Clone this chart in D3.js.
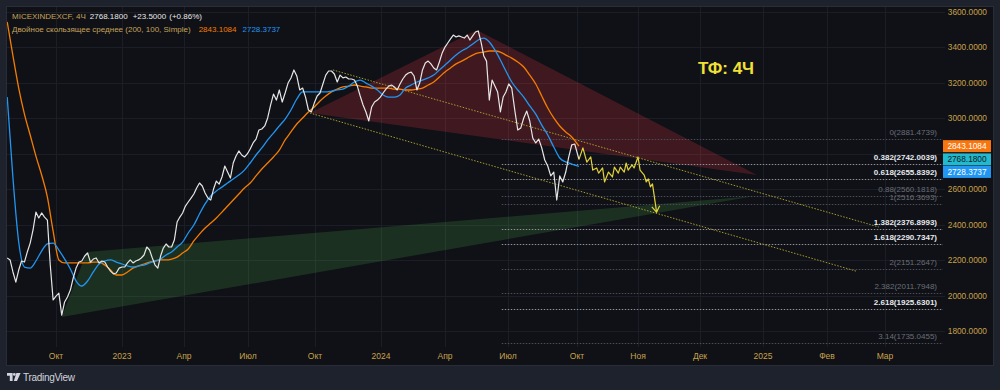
<!DOCTYPE html>
<html>
<head>
<meta charset="utf-8">
<script src="https://cdn.jsdelivr.net/npm/d3@7"></script>
<style>
  html, body { margin: 0; padding: 0; background: #1e222d; }
  svg { display: block; font-family: "Liberation Sans", Arial, sans-serif; }
</style>
</head>
<body>
<svg id="chart" width="1000" height="390"></svg>
<script>
// Step-1 : data //

// MICEXINDEXCF close, one value every 4 days from 2022-07-25
var priceStart = "2022-07-25";
var priceStepDays = 4;
var closes = [
  2212, 2201, 2133, 2076, 2144, 2195, 2189, 2246, 2296, 2370,
  2471, 2438, 2466, 2443, 2426, 2172, 1975, 1997, 2014, 1890,
  1964, 1992, 2031, 2099, 2155, 2189, 2195, 2223, 2240, 2189,
  2206, 2212, 2184, 2195, 2189, 2161, 2138, 2122, 2127, 2155,
  2161, 2161, 2184, 2201, 2184, 2195, 2201, 2212, 2229, 2274,
  2257, 2212, 2172, 2155, 2223, 2268, 2291, 2274, 2274, 2313,
  2415, 2443, 2466, 2505, 2528, 2550, 2573, 2607, 2635, 2618,
  2579, 2550, 2539, 2601, 2646, 2629, 2669, 2731, 2697, 2663,
  2748, 2787, 2816, 2793, 2782, 2799, 2827, 2861, 2883, 2934,
  2940, 2957, 3002, 3075, 3137, 3103, 3160, 3092, 3143, 3199,
  3228, 3273, 3239, 3160, 3171, 3120, 3047, 3036, 3086, 3126,
  3143, 3194, 3244, 3267, 3267, 3250, 3205, 3244, 3228, 3233,
  3222, 3222, 3216, 3182, 3126, 3075, 3036, 2985, 3064, 3092,
  3103, 3120, 3143, 3165, 3182, 3188, 3177, 3160, 3194, 3222,
  3244, 3256, 3261, 3239, 3160, 3199, 3273, 3312, 3323, 3307,
  3284, 3273, 3318, 3369, 3402, 3425, 3448, 3470, 3459, 3465,
  3459, 3453, 3470, 3442, 3465, 3487, 3493, 3431, 3352, 3323,
  3103, 3216, 3182, 3149, 3036, 3120, 3149, 3194, 3171, 3047,
  2934, 2945, 3002, 3041, 2985, 2889, 2861, 2883, 2833, 2765,
  2731, 2675, 2697, 2539, 2675, 2641, 2697, 2782, 2850, 2855,
  2768.18
];
var lastChange = 23.5;
var lastChangePct = 0.86;

// double moving average (200, 100, Simple), one value every 8 days
var maStepDays = 8;
var sma200 = [
  3544, 3352, 3171, 3024, 2906, 2787, 2680, 2556, 2364, 2201,
  2184, 2184, 2184, 2184, 2184, 2189, 2189, 2172, 2144, 2116,
  2116, 2133, 2155, 2167, 2178, 2189, 2195, 2201, 2201, 2206,
  2217, 2240, 2263, 2308, 2347, 2381, 2409, 2438, 2471, 2505,
  2539, 2573, 2607, 2635, 2675, 2714, 2748, 2782, 2821, 2878,
  2923, 2968, 3002, 3036, 3064, 3098, 3126, 3149, 3165, 3177,
  3182, 3188, 3182, 3177, 3171, 3171, 3171, 3171, 3165, 3165,
  3160, 3160, 3165, 3171, 3188, 3205, 3233, 3261, 3284, 3307,
  3323, 3340, 3357, 3369, 3374, 3380, 3380, 3374, 3357, 3340,
  3318, 3290, 3244, 3194, 3126, 3058, 3002, 2957, 2923, 2895,
  2843.1084
];
var sma100 = [
  3120, 2663, 2302, 2161, 2155, 2195, 2251, 2291, 2296, 2257,
  2206, 2150, 2082, 2054, 2082, 2133, 2178, 2195, 2201, 2189,
  2178, 2167, 2161, 2167, 2172, 2184, 2195, 2206, 2229, 2246,
  2274, 2302, 2353, 2398, 2460, 2517, 2562, 2590, 2612, 2635,
  2658, 2680, 2708, 2748, 2793, 2833, 2878, 2917, 2957, 2996,
  3047, 3109, 3149, 3149, 3149, 3149, 3149, 3154, 3160, 3165,
  3182, 3205, 3216, 3199, 3182, 3160, 3132, 3120, 3120, 3132,
  3171, 3188, 3205, 3216, 3228, 3244, 3273, 3301, 3329, 3357,
  3380, 3397, 3419, 3442, 3453, 3431, 3386, 3329, 3267, 3205,
  3160, 3120, 3070, 3024, 2962, 2906, 2838, 2776, 2754, 2742,
  2728.3737
];

// hand drawn projection (yellow path)
var forecastDates = [
  "2024-10-02", "2024-10-04", "2024-10-06", "2024-10-08", "2024-10-09",
  "2024-10-11", "2024-10-12", "2024-10-14", "2024-10-15", "2024-10-17",
  "2024-10-19", "2024-10-20", "2024-10-22", "2024-10-23", "2024-10-25",
  "2024-10-26", "2024-10-27", "2024-10-29", "2024-10-30", "2024-11-01",
  "2024-11-02", "2024-11-04", "2024-11-05", "2024-11-06", "2024-11-07",
  "2024-11-08", "2024-11-10"
];
var forecastValues = [
  2768.18, 2833, 2753, 2782, 2708,
  2720, 2691, 2720, 2641, 2697,
  2669, 2725, 2691, 2725, 2697,
  2748, 2708, 2737, 2720, 2782,
  2708, 2680, 2641, 2658, 2613,
  2630, 2471
];

// drawings: triangles and parallel channel (date, price)
var redTriangle = [["2023-09-24", 3030], ["2024-05-17", 3498], ["2024-12-29", 2680]];
var greenTriangle = [["2022-10-09", 1879], ["2022-11-13", 2246], ["2024-12-28", 2562]];
var channelTop = [["2023-10-26", 3273], ["2025-02-26", 2387]];
var channelBottom = [["2023-09-24", 3030], ["2025-02-15", 2138]];

// fibonacci extension levels
var fibStart = "2024-06-22";
var fibLevels = [0, 0.382, 0.618, 0.88, 1, 1.382, 1.618, 2, 2.382, 2.618, 3.14];
var fibPrices = [2881.4739, 2742.0039, 2655.8392, 2560.1818, 2516.3693, 2376.8993,
                 2290.7347, 2151.2647, 2011.7948, 1925.6301, 1735.0455];

// axes
var timeTickDates = ["2022-10-01", "2023-01-01", "2023-04-01", "2023-07-01", "2023-10-01",
                     "2024-01-01", "2024-04-01", "2024-07-01", "2024-10-01", "2024-11-01",
                     "2024-12-01", "2025-01-01", "2025-02-01", "2025-03-01"];
var timeTickLabels = ["Окт", "2023", "Апр", "Июл", "Окт", "2024", "Апр", "Июл",
                      "Окт", "Ноя", "Дек", "2025", "Фев", "Мар"];
var priceTicks = [1800, 2000, 2200, 2400, 2600, 2800, 3000, 3200, 3400, 3600];


/** main program */

var svg = d3.select("#chart"),
  W = 1000, H = 390,
  plot = { left: 7, top: 7, right: 945, bottom: 347 };

var gold = "#c9a14a",
  grid = "#1b1e26";

var parse = d3.timeParse("%Y-%m-%d");

// TradingView spaces bars, not days: history is compressed, future is not
var x = d3.scaleTime()
  .domain(timeTickDates.map(parse))
  .range([56, 122, 184, 248, 315, 381, 445, 508, 577, 638, 700, 763, 827, 885]);

var y = d3.scaleLinear().domain([1800, 3600]).range([331, 12]);

var start = parse(priceStart);
var priceData = closes.map((v, i) => ({ date: d3.timeDay.offset(start, i * priceStepDays), value: v }));
var slowData = sma200.map((v, i) => ({ date: d3.timeDay.offset(start, i * maStepDays), value: v }));
var fastData = sma100.map((v, i) => ({ date: d3.timeDay.offset(start, i * maStepDays), value: v }));
var forecastData = forecastDates.map((d, i) => ({ date: parse(d), value: forecastValues[i] }));

// background + panel
svg.append("rect").attr("width", W).attr("height", H).attr("fill", "#1e222d");
svg.append("rect")
  .attr("x", 6.5).attr("y", 6.5).attr("width", 987).attr("height", 359)
  .attr("fill", "#0f1116").attr("stroke", "#292d38");

svg.append("clipPath").attr("id", "clip")
  .append("rect")
  .attr("x", plot.left).attr("y", plot.top)
  .attr("width", plot.right - plot.left).attr("height", plot.bottom - plot.top);

// grid
svg.append("g").selectAll("line")
  .data(priceTicks)
  .enter().append("line")
  .attr("x1", plot.left).attr("x2", plot.right)
  .attr("y1", d => Math.round(y(d)) + 0.5).attr("y2", d => Math.round(y(d)) + 0.5)
  .attr("stroke", grid);

svg.append("g").selectAll("line")
  .data(timeTickDates)
  .enter().append("line")
  .attr("x1", d => Math.round(x(parse(d))) + 0.5).attr("x2", d => Math.round(x(parse(d))) + 0.5)
  .attr("y1", plot.top).attr("y2", plot.bottom)
  .attr("stroke", grid);

var g = svg.append("g").attr("clip-path", "url(#clip)");

// triangles
var pt = p => [x(parse(p[0])), y(p[1])];

g.append("path")
  .attr("d", "M" + greenTriangle.map(pt).join("L") + "Z")
  .attr("fill", "rgba(76,175,80,0.2)");

g.append("path")
  .attr("d", "M" + redTriangle.map(pt).join("L") + "Z")
  .attr("fill", "rgba(242,54,69,0.22)");

// fib levels
var strong = [0.382, 0.618, 1.382, 1.618, 2.618];
var fibX1 = x(parse(fibStart)), fibX2 = plot.right - 2;

g.append("g").selectAll("line")
  .data(fibLevels)
  .enter().append("line")
  .attr("x1", fibX1).attr("x2", fibX2)
  .attr("y1", (d, i) => Math.round(y(fibPrices[i])) + 0.5)
  .attr("y2", (d, i) => Math.round(y(fibPrices[i])) + 0.5)
  .attr("stroke", d => strong.indexOf(d) >= 0 ? "#8e919a" : "#4b4e57")
  .attr("stroke-dasharray", "1.5,1.5");

// channel
[channelTop, channelBottom].forEach(function (c) {
  g.append("path")
    .attr("d", "M" + c.map(pt).join("L"))
    .attr("fill", "none")
    .attr("stroke", "#a89b2c")
    .attr("stroke-width", 1)
    .attr("stroke-dasharray", "1.5,1.5");
});

// series
var line = d3.line().x(d => x(d.date)).y(d => y(d.value));

g.append("path").datum(slowData)
  .attr("d", line.curve(d3.curveMonotoneX))
  .attr("fill", "none").attr("stroke", "#f57c00").attr("stroke-width", 1.3);

g.append("path").datum(fastData)
  .attr("d", line.curve(d3.curveMonotoneX))
  .attr("fill", "none").attr("stroke", "#2196f3").attr("stroke-width", 1.3);

line.curve(d3.curveLinear);

g.append("path").datum(priceData)
  .attr("d", line)
  .attr("fill", "none").attr("stroke", "#e6e6e6").attr("stroke-width", 1.2)
  .attr("stroke-linejoin", "round");

g.append("path").datum(forecastData)
  .attr("d", line)
  .attr("fill", "none").attr("stroke", "#e3d23a").attr("stroke-width", 1.2)
  .attr("stroke-linejoin", "round");

// arrow head at the end of the projection
var a = forecastData[forecastData.length - 2], b = forecastData[forecastData.length - 1];
var ang = Math.atan2(y(b.value) - y(a.value), x(b.date) - x(a.date));
var bx = x(b.date), by = y(b.value);
g.append("path")
  .attr("d", "M" + [bx - 7 * Math.cos(ang - 0.6), by - 7 * Math.sin(ang - 0.6)] +
    "L" + [bx, by] +
    "L" + [bx - 7 * Math.cos(ang + 0.6), by - 7 * Math.sin(ang + 0.6)])
  .attr("fill", "none").attr("stroke", "#e3d23a").attr("stroke-width", 1.2);

// fib labels
svg.append("g").selectAll("text")
  .data(fibLevels)
  .enter().append("text")
  .attr("x", plot.right - 8)
  .attr("y", (d, i) => y(fibPrices[i]) - 4)
  .attr("text-anchor", "end")
  .attr("font-size", 8)
  .attr("font-weight", d => strong.indexOf(d) >= 0 ? "bold" : "normal")
  .attr("fill", d => strong.indexOf(d) >= 0 ? "#e8eaf0" : "#6b6e78")
  .text((d, i) => d + "(" + fibPrices[i].toFixed(4) + ")");

// timeframe note
svg.append("text")
  .attr("x", 698).attr("y", 74)
  .attr("font-size", 17).attr("font-weight", "bold")
  .attr("fill", "#f2e035")
  .text("ТФ: 4Ч");

// legend
var f4 = d3.format(".4f");
var last = closes[closes.length - 1];

var t1 = svg.append("text").attr("x", 12).attr("y", 19).attr("font-size", 8);
t1.append("tspan").attr("fill", "#c6a35a").text("MICEXINDEXCF, 4Ч");
t1.append("tspan").attr("dx", 4).attr("fill", "#e8e8e8").text(f4(last));
t1.append("tspan").attr("dx", 5).attr("fill", "#e8e8e8").text("+" + f4(lastChange));
t1.append("tspan").attr("dx", 3).attr("fill", "#e8e8e8").text("(+" + lastChangePct.toFixed(2) + "%)");

var t2 = svg.append("text").attr("x", 12).attr("y", 32).attr("font-size", 8);
t2.append("tspan").attr("fill", "#c6a35a").text("Двойное скользящее среднее (200, 100, Simple)");
t2.append("tspan").attr("dx", 8).attr("fill", "#f57c00").text(f4(sma200[sma200.length - 1]));
t2.append("tspan").attr("dx", 6).attr("fill", "#2196f3").text(f4(sma100[sma100.length - 1]));

// price tags, pushed apart like TradingView does
var tags = [
  { v: sma200[sma200.length - 1], bg: "#f7760f", fg: "#ffffff" },
  { v: last, bg: "#22b8cf", fg: "#0d1b22" },
  { v: sma100[sma100.length - 1], bg: "#2196f3", fg: "#ffffff" }
];
tags.forEach(d => d.cy = y(d.v));
tags.sort((p, q) => p.cy - q.cy);
for (var i = 1; i < tags.length; i++) {
  if (tags[i].cy < tags[i - 1].cy + 12.5) tags[i].cy = tags[i - 1].cy + 12.5;
}

// price axis
svg.append("g").selectAll("text")
  .data(priceTicks.filter(v => !tags.some(t => Math.abs(t.cy - y(v)) < 9)))
  .enter().append("text")
  .attr("x", 987).attr("y", d => y(d) + 3)
  .attr("text-anchor", "end")
  .attr("font-size", 8.3)
  .attr("fill", gold)
  .text(d => f4(d));

var tag = svg.append("g").selectAll("g")
  .data(tags)
  .enter().append("g");

tag.append("rect")
  .attr("x", 943).attr("y", d => d.cy - 6)
  .attr("width", 48).attr("height", 12)
  .attr("fill", d => d.bg);

tag.append("text")
  .attr("x", 967).attr("y", d => d.cy + 3)
  .attr("text-anchor", "middle")
  .attr("font-size", 8.3)
  .attr("fill", d => d.fg)
  .text(d => f4(d.v));

// time axis
svg.append("g").selectAll("text")
  .data(timeTickDates)
  .enter().append("text")
  .attr("x", d => x(parse(d)))
  .attr("y", 359)
  .attr("text-anchor", "middle")
  .attr("font-size", 8.5)
  .attr("fill", gold)
  .text((d, i) => timeTickLabels[i]);

// TradingView mark
var logo = svg.append("g").attr("fill", "#d1d4dc");
logo.append("path").attr("d", "M7 373h5.6v8h-2.8v-5.3H7z");
logo.append("circle").attr("cx", 14.3).attr("cy", 374.4).attr("r", 1.4);
logo.append("path").attr("d", "M16.4 373h4.2l-3.6 8h-3.2z");
svg.append("text")
  .attr("x", 23).attr("y", 381)
  .attr("font-size", 10).attr("letter-spacing", -0.3)
  .attr("fill", "#d1d4dc")
  .text("TradingView");
</script>
</body>
</html>
